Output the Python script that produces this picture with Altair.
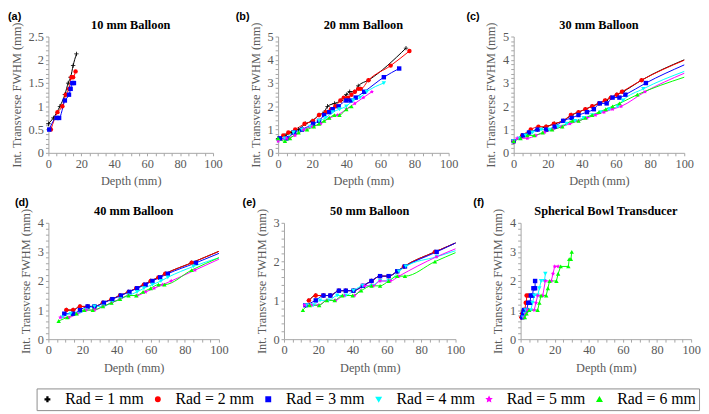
import altair as alt
import pandas as pd

SERIES = ["Rad = 1 mm", "Rad = 2 mm", "Rad = 3 mm", "Rad = 4 mm", "Rad = 5 mm", "Rad = 6 mm"]
COLORS = ["#000000", "#ff0000", "#0000ff", "#00ffff", "#ff00ff", "#00ff00"]
PLUS = "M-1,-0.18H-0.18V-1H0.18V-0.18H1V0.18H0.18V1H-0.18V0.18H-1Z"
STAR = "M0,-1L0.29,-0.4L0.95,-0.31L0.47,0.15L0.59,0.81L0,0.5L-0.59,0.81L-0.47,0.15L-0.95,-0.31L-0.29,-0.4Z"
SHAPES = [PLUS, "circle", "square", "triangle-down", STAR, "triangle-up"]

# ---- (a) 10 mm Balloon : depth (mm), FWHM (mm)
A_DATA = {
    "Rad = 1 mm": ([0, 3, 7, 10, 12, 13.5, 15, 17], [0.625, 0.75, 1.0, 1.25, 1.5, 1.625, 1.875, 2.125]),
    "Rad = 2 mm": ([1.5, 5.5, 8.5, 10.5, 12.5, 14, 15, 16.5], [0.5, 0.875, 1.0, 1.25, 1.375, 1.625, 1.625, 1.75]),
    "Rad = 3 mm": ([0.5, 5, 6.5, 10, 12.5, 13.5, 14.5, 15.5], [0.5, 0.75, 0.75, 1.125, 1.25, 1.375, 1.5, 1.5]),
}
A_TAIL = {}

# ---- (b) 20 mm Balloon
B_DATA = {
    "Rad = 1 mm": ([0, 4, 8, 12, 16, 20, 24, 27, 29, 33, 37, 40, 42, 45, 47, 53, 75],
                   [0.625, 0.75, 0.875, 1.0, 1.25, 1.375, 1.625, 1.75, 2.0, 2.125, 2.25, 2.5, 2.625, 2.625, 2.875, 3.125, 4.5]),
    "Rad = 2 mm": ([3, 6, 10, 15.5, 20.5, 24, 28, 31, 33.5, 36.5, 38.5, 41, 43, 45, 47, 48.5, 53, 66, 77],
                   [0.75, 0.875, 1.0, 1.25, 1.375, 1.625, 1.75, 1.875, 2.0, 2.25, 2.375, 2.375, 2.5, 2.625, 2.75, 2.75, 3.125, 3.75, 4.375]),
    "Rad = 3 mm": ([1, 5, 9.5, 14, 20.5, 24, 27, 30, 32, 35.5, 40, 42.5, 45.5, 50.5, 62, 71],
                   [0.625, 0.625, 0.875, 1.0, 1.25, 1.375, 1.625, 1.75, 1.875, 2.0, 2.25, 2.25, 2.375, 2.625, 3.25, 3.625]),
    "Rad = 4 mm": ([0, 4, 9, 14, 19, 24, 28, 32, 36, 40, 44, 48, 52, 62],
                   [0.5, 0.625, 0.875, 1.0, 1.125, 1.375, 1.5, 1.75, 1.875, 2.0, 2.25, 2.375, 2.625, 3.0]),
    "Rad = 5 mm": ([0, 5, 10, 15, 20, 25, 30, 35, 40, 45, 50, 55],
                   [0.5, 0.625, 0.75, 1.0, 1.125, 1.25, 1.5, 1.625, 1.875, 2.125, 2.375, 2.625]),
    "Rad = 6 mm": ([0, 4, 7, 12, 17, 21, 24, 27, 30, 33, 36, 40, 43],
                   [0.625, 0.5, 0.625, 0.875, 1.0, 1.125, 1.25, 1.375, 1.5, 1.625, 1.625, 1.875, 2.0]),
}
B_TAIL = {}

# ---- (c) 30 mm Balloon
C_DATA = {
    "Rad = 1 mm": ([0, 5, 9, 14, 19, 24, 29, 34, 38, 42, 46, 50, 54, 57, 60.5, 64, 75],
                   [0.5, 0.75, 0.875, 1.0, 1.125, 1.25, 1.375, 1.625, 1.75, 1.875, 2.0, 2.125, 2.25, 2.375, 2.5, 2.625, 3.125]),
    "Rad = 2 mm": ([0, 5, 10, 14.5, 19, 23.5, 29, 33.5, 38, 42, 46, 50, 53.5, 57, 60.5, 63.5, 75],
                   [0.5, 0.75, 1.0, 1.125, 1.125, 1.25, 1.375, 1.625, 1.75, 1.875, 2.0, 2.125, 2.25, 2.375, 2.5, 2.625, 3.125]),
    "Rad = 3 mm": ([0, 5.5, 9, 14, 19, 24, 29, 34, 38, 43, 47, 50.5, 54.5, 58, 62, 65.5, 77.5],
                   [0.5, 0.75, 0.875, 1.0, 1.0, 1.125, 1.375, 1.5, 1.625, 1.75, 1.875, 2.125, 2.125, 2.375, 2.375, 2.5, 3.0]),
    "Rad = 4 mm": ([0, 3, 7, 11, 16, 21, 26, 31, 36, 41, 46, 51, 56, 61, 64, 76],
                   [0.5, 0.625, 0.75, 0.875, 1.0, 1.0, 1.125, 1.25, 1.375, 1.5, 1.625, 1.75, 1.875, 2.0, 2.25, 2.75]),
    "Rad = 5 mm": ([0, 2, 8, 13, 18, 23, 28, 33, 38, 43, 48, 53, 58, 63, 77],
                   [0.5, 0.625, 0.625, 0.75, 0.875, 1.0, 1.125, 1.25, 1.375, 1.5, 1.625, 1.75, 1.875, 2.0, 2.625]),
    "Rad = 6 mm": ([0, 4, 8, 12, 17, 22.5, 28.5, 34.5, 38, 42, 46, 50, 54, 58, 62, 72.5],
                   [0.5, 0.625, 0.75, 0.75, 0.875, 1.0, 1.125, 1.375, 1.375, 1.5, 1.625, 1.75, 1.875, 2.0, 2.125, 2.5]),
}
C_TAIL = {
    "Rad = 1 mm": ([100], [4.0]), "Rad = 2 mm": ([100], [3.98]), "Rad = 3 mm": ([100], [3.78]),
    "Rad = 4 mm": ([100], [3.5]), "Rad = 5 mm": ([100], [3.42]), "Rad = 6 mm": ([100], [3.25]),
}

# ---- (d) 40 mm Balloon
D_DATA = {
    "Rad = 1 mm": ([10.5, 14.5, 18.5, 23, 27, 32, 37, 42, 47, 51.5, 56, 60, 64.5, 68.5, 84],
                   [1.0, 1.0, 1.125, 1.125, 1.125, 1.25, 1.375, 1.5, 1.625, 1.75, 1.875, 2.0, 2.125, 2.25, 2.625]),
    "Rad = 2 mm": ([10.5, 14.5, 18.5, 23, 27, 32, 37, 42, 47, 51.5, 56, 60, 64.5, 68.5, 84],
                   [1.0, 1.0, 1.125, 1.125, 1.125, 1.25, 1.375, 1.5, 1.625, 1.75, 1.875, 2.0, 2.125, 2.25, 2.625]),
    "Rad = 3 mm": ([9.3, 14.5, 18.5, 23, 27, 32.5, 37.5, 42.5, 47.5, 52, 57, 61, 65.5, 70, 86.5],
                   [0.875, 0.875, 1.0, 1.125, 1.125, 1.25, 1.375, 1.5, 1.625, 1.75, 1.875, 2.0, 2.125, 2.25, 2.625]),
    "Rad = 4 mm": ([8, 13, 17, 22, 27, 32, 37, 42, 47, 52, 56, 61, 66, 70, 85],
                   [0.75, 0.875, 0.875, 1.0, 1.125, 1.125, 1.25, 1.375, 1.5, 1.625, 1.75, 1.875, 2.0, 2.125, 2.5]),
    "Rad = 5 mm": ([7, 12, 17, 22, 27, 32, 37, 42, 47, 52, 57, 62, 67, 72, 86],
                   [0.75, 0.75, 0.875, 1.0, 1.0, 1.125, 1.25, 1.375, 1.5, 1.5, 1.625, 1.75, 1.875, 2.0, 2.375]),
    "Rad = 6 mm": ([6, 11, 16.5, 21, 26, 32, 37, 42, 47, 51.5, 55.5, 60, 64.5, 68, 84],
                   [0.625, 0.75, 0.875, 1.0, 1.0, 1.125, 1.25, 1.375, 1.5, 1.5, 1.625, 1.75, 1.875, 1.875, 2.375]),
}
D_TAIL = {
    "Rad = 1 mm": ([100], [3.02]), "Rad = 2 mm": ([100], [3.02]), "Rad = 3 mm": ([100], [2.95]),
    "Rad = 4 mm": ([100], [2.8]), "Rad = 5 mm": ([100], [2.75]), "Rad = 6 mm": ([100], [2.8]),
}

# ---- (e) 50 mm Balloon
E_DATA = {
    "Rad = 1 mm": ([14.5, 18.5, 23, 27, 32, 36, 40.5, 46, 51, 56, 61, 66, 70, 88],
                   [1.0, 1.125, 1.125, 1.125, 1.25, 1.25, 1.25, 1.375, 1.5, 1.625, 1.625, 1.75, 1.875, 2.25]),
    "Rad = 2 mm": ([14.5, 18.5, 23, 27, 32, 36, 40.5, 46, 51, 56, 61, 66, 70, 88],
                   [1.0, 1.125, 1.125, 1.125, 1.25, 1.25, 1.25, 1.375, 1.5, 1.625, 1.625, 1.75, 1.875, 2.25]),
    "Rad = 3 mm": ([12.5, 18.5, 23, 27, 32, 36, 40.5, 46, 51, 56, 61, 66, 70.5, 89],
                   [0.875, 1.0, 1.125, 1.125, 1.25, 1.25, 1.25, 1.375, 1.5, 1.625, 1.625, 1.75, 1.875, 2.25]),
    "Rad = 4 mm": ([13, 17, 21, 26, 31, 36, 40.5, 46, 51, 56, 61, 67, 71, 89],
                   [0.875, 0.875, 1.0, 1.0, 1.125, 1.125, 1.25, 1.375, 1.375, 1.5, 1.5, 1.75, 1.875, 2.125]),
    "Rad = 5 mm": ([12, 16, 20, 25, 30, 35, 41, 47, 52, 56, 62, 67, 89],
                   [0.875, 0.875, 0.875, 1.0, 1.0, 1.125, 1.125, 1.375, 1.375, 1.5, 1.5, 1.625, 2.125]),
    "Rad = 6 mm": ([11, 15, 20.5, 25, 29.5, 34, 40, 45, 51, 56, 61, 66, 70.5, 88],
                   [0.75, 0.875, 0.875, 1.0, 1.0, 1.125, 1.125, 1.25, 1.375, 1.375, 1.5, 1.625, 1.625, 2.0]),
}
E_TAIL = {
    "Rad = 1 mm": ([100], [2.48]), "Rad = 2 mm": ([100], [2.48]), "Rad = 3 mm": ([100], [2.48]),
    "Rad = 4 mm": ([100], [2.28]), "Rad = 5 mm": ([100], [2.33]), "Rad = 6 mm": ([100], [2.23]),
}

# ---- (f) Spherical Bowl Transducer
F_DATA = {
    "Rad = 1 mm": ([0.5, 0.7, 1, 1.5], [0.75, 0.875, 0.875, 1.0]),
    "Rad = 2 mm": ([0.5, 1, 2, 2.5, 3, 3.5, 3.5, 4.5], [0.75, 0.875, 1.0, 1.0, 1.25, 1.25, 1.5, 1.5]),
    "Rad = 3 mm": ([1, 1.5, 2, 3.5, 4.5, 5.5, 6, 7, 7.5, 8.5, 8.5],
                   [0.75, 0.875, 1.0, 1.0, 1.25, 1.25, 1.5, 1.5, 1.75, 1.75, 2.0]),
    "Rad = 4 mm": ([1.5, 2.5, 3, 6, 7, 8, 10, 11, 12, 14, 14.5],
                   [0.75, 0.875, 1.0, 1.0, 1.25, 1.5, 1.5, 1.75, 2.0, 2.0, 2.25]),
    "Rad = 5 mm": ([2, 3, 4, 8, 9, 10, 13, 14.5, 18, 19, 20, 22],
                   [0.75, 0.875, 1.0, 1.0, 1.25, 1.5, 1.5, 2.0, 2.0, 2.25, 2.5, 2.5]),
    "Rad = 6 mm": ([2.5, 3.5, 5, 10, 11, 12, 15, 16, 17, 21, 22, 23.5, 28, 28.5, 29.5, 30],
                   [0.75, 0.875, 1.0, 1.0, 1.25, 1.5, 1.5, 1.75, 2.0, 2.0, 2.25, 2.5, 2.5, 2.75, 2.75, 3.0]),
}
F_TAIL = {}

X_TICKS = list(range(0, 101, 5))

PANELS = [
    dict(letter="(a)", title="10 mm Balloon", data=A_DATA, tail=A_TAIL, ymax=2.5, major=0.5, minor=0.1, w=167, ldx=-41, interp="monotone"),
    dict(letter="(b)", title="20 mm Balloon", data=B_DATA, tail=B_TAIL, ymax=5, major=1, minor=0.2, w=173, ldx=-43, interp="monotone"),
    dict(letter="(c)", title="30 mm Balloon", data=C_DATA, tail=C_TAIL, ymax=5, major=1, minor=0.2, w=173, ldx=-48, interp="monotone"),
    dict(letter="(d)", title="40 mm Balloon", data=D_DATA, tail=D_TAIL, ymax=4, major=1, minor=0.2, w=173, ldx=-34, interp="monotone"),
    dict(letter="(e)", title="50 mm Balloon", data=E_DATA, tail=E_TAIL, ymax=3, major=1, minor=0.2, w=174, ldx=-42, interp="monotone"),
    dict(letter="(f)", title="Spherical Bowl Transducer", data=F_DATA, tail=F_TAIL, ymax=4, major=1, minor=0.2, w=173, ldx=-48, interp="linear"),
]

H = 118
SERIF = "Liberation Serif"
cscale = alt.Scale(domain=SERIES, range=COLORS)
sscale = alt.Scale(domain=SERIES, range=SHAPES)
LEG = alt.Legend(title=None, orient="none", legendX=-12, legendY=357, direction="horizontal", columns=6,
                 labelFont=SERIF, labelFontSize=16, labelColor="black", symbolSize=20,
                 strokeColor="#8c8c8c", padding=3, labelOffset=10, columnPadding=6, cornerRadius=0)


def make_panel(cfg):
    rows = []
    for s in SERIES:
        if s not in cfg["data"]:
            continue
        xs, ys = cfg["data"][s]
        i = 0
        for x, y in zip(xs, ys):
            rows.append(dict(series=s, depth=x, fwhm=y, marker=True, idx=i))
            i += 1
        if s in cfg["tail"]:
            tx, ty = cfg["tail"][s]
            for x, y in zip(tx, ty):
                rows.append(dict(series=s, depth=x, fwhm=y, marker=False, idx=i))
                i += 1
    df = pd.DataFrame(rows)
    n = int(round(cfg["ymax"] / cfg["minor"]))
    yvals = [round(k * cfg["minor"], 3) for k in range(n + 1)]
    maj = cfg["major"]
    ylab = f"abs(datum.value/{maj} - round(datum.value/{maj})) < 0.001 ? format(datum.value, '~g') : ''"
    ax_common = dict(labelFont=SERIF, titleFont=SERIF, labelFontSize=12.5, titleFontSize=12.5,
                     titleFontWeight="normal", labelColor="#595959", titleColor="#595959")
    x = alt.X("depth:Q", scale=alt.Scale(domain=[0, 100], nice=False, zero=False),
              axis=alt.Axis(title="Depth (mm)", values=X_TICKS,
                            labelExpr="datum.value % 20 === 0 ? datum.label : ''", **ax_common))
    y = alt.Y("fwhm:Q", scale=alt.Scale(domain=[0, cfg["ymax"]], nice=False),
              axis=alt.Axis(title="Int. Transverse FWHM (mm)", values=yvals, labelExpr=ylab, **ax_common))
    base = alt.Chart(df)
    lines = base.mark_line(strokeWidth=1, interpolate=cfg["interp"]).encode(
        x=x, y=y, color=alt.Color("series:N", scale=cscale, legend=LEG), order=alt.Order("idx:Q"))
    pts = base.transform_filter("datum.marker").mark_point(filled=True, size=20, opacity=1).encode(
        x=x, y=y,
        color=alt.Color("series:N", scale=cscale, legend=LEG),
        shape=alt.Shape("series:N", scale=sscale, legend=LEG))
    letter = alt.Chart(pd.DataFrame({"t": [cfg["letter"]]})).mark_text(
        align="left", baseline="alphabetic", font="Liberation Sans", fontWeight="bold",
        fontSize=11, color="black").encode(x=alt.value(cfg["ldx"]), y=alt.value(-17), text="t:N")
    title = alt.Chart(pd.DataFrame({"t": [cfg["title"]]})).mark_text(
        align="center", baseline="alphabetic", font=SERIF, fontWeight="bold",
        fontSize=12.5, color="black").encode(x=alt.value(cfg["w"] / 2), y=alt.value(-8), text="t:N")
    return alt.layer(lines, pts, letter, title).properties(width=cfg["w"], height=H)


row1 = alt.hconcat(*[make_panel(p) for p in PANELS[:3]], spacing=66, bounds="flush").resolve_scale(
    color="shared", shape="shared")
row2 = alt.hconcat(*[make_panel(p) for p in PANELS[3:]], spacing=66, bounds="flush").resolve_scale(
    color="shared", shape="shared")

chart = alt.vconcat(row1, row2, spacing=10).resolve_scale(
    color="shared", shape="shared").properties(padding=0, background="white").configure(
    font=SERIF).configure_view(
    stroke=None).configure_axis(
    grid=False, domainColor="#a6a6a6", tickColor="#a6a6a6", tickSize=3, labelPadding=2,
    labelFlush=False, labelOverlap=False, titlePadding=5)

chart.save("out.html", embed_options={"renderer": "svg", "actions": False})
